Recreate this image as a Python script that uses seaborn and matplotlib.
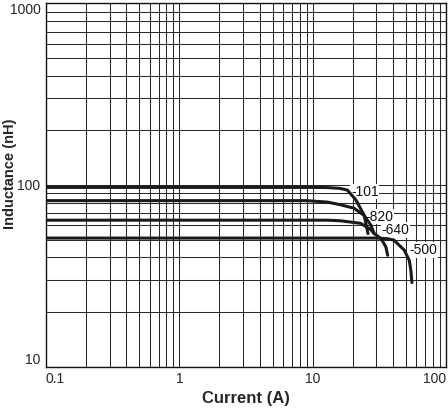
import numpy as np
import pandas as pd
import matplotlib
matplotlib.use("Agg")
import matplotlib.pyplot as plt
import seaborn as sns
from matplotlib.ticker import LogLocator, NullFormatter, FixedLocator

# ---- data ----
parts = ["-101", "-820", "-640", "-500"]
cur_101 = [0.1, 10, 12.9, 16.0, 18.2, 21.1, 24.3, 26.0]
ind_101 = [97, 97, 96.8, 95.8, 93.8, 82.7, 68.3, 54.0]
cur_820 = [0.1, 9, 12.9, 16.2, 20.4, 24.3, 27.3, 28.9]
ind_820 = [82, 82, 80.5, 77.8, 74.5, 68.0, 60.2, 54.0]
cur_640 = [0.1, 13, 16.2, 22.9, 27.3, 28.9, 32.5, 35.4, 36.5]
ind_640 = [64, 64, 63.5, 61.5, 56.8, 54.0, 50.8, 45.6, 41.0]
cur_500 = [0.1, 30, 36.5, 40.8, 48.6, 53.0, 54.5, 55.5]
ind_500 = [51, 51, 50.6, 49.6, 43.8, 38.5, 33.9, 29.0]

label_x = [19.4, 25.0, 32.8, 53.5]
label_y = [91.8, 66.8, 56.4, 43.8]

xticks = [0.1, 1, 10, 100]
xticklabels = ["0.1", "1", "10", "100"]
yticks = [10, 100, 1000]
yticklabels = ["10", "100", "1000"]

curves = {"-101": (cur_101, ind_101), "-820": (cur_820, ind_820),
          "-640": (cur_640, ind_640), "-500": (cur_500, ind_500)}
frames = []
for p in parts:
    c, l = curves[p]
    frames.append(pd.DataFrame({"Current": c, "Inductance": l, "part": p}))
df = pd.concat(frames, ignore_index=True)

sns.set_style("white")
plt.rcParams["font.family"] = ["Liberation Sans", "DejaVu Sans"]

fig = plt.figure(figsize=(4.48, 4.09), dpi=100)
ax = fig.add_axes([46 / 448, (409 - 366.5) / 409, 400 / 448, 363 / 409])
ax.set_xscale("log")
ax.set_yscale("log")
ax.set_xlim(0.1, 100)
ax.set_ylim(10, 1000)

# grid (major + minor)
ax.xaxis.set_major_locator(FixedLocator(xticks))
ax.yaxis.set_major_locator(FixedLocator(yticks))
ax.xaxis.set_minor_locator(LogLocator(base=10, subs=np.arange(2, 10)))
ax.yaxis.set_minor_locator(LogLocator(base=10, subs=np.arange(2, 10)))
ax.xaxis.set_minor_formatter(NullFormatter())
ax.yaxis.set_minor_formatter(NullFormatter())
ax.grid(True, which="both", color="#2a2a2a", linewidth=0.75)
ax.set_axisbelow(True)

sns.lineplot(data=df, x="Current", y="Inductance", hue="part", units="part",
             estimator=None, sort=False, palette=["#1a1a1a"] * 4,
             linewidth=2.2, legend=False, ax=ax, zorder=3)

for p, lx, ly in zip(parts, label_x, label_y):
    ax.text(lx, ly, p, fontsize=10, ha="left", va="center", color="#111",
            bbox=dict(facecolor="white", edgecolor="none", pad=0.5), zorder=1.5)

ax.set_xticks(xticks)
ax.set_xticklabels(xticklabels, fontsize=10)
ax.set_yticks(yticks)
ax.set_yticklabels(yticklabels, fontsize=10)
xl = ax.get_xticklabels()
xl[0].set_ha("left")
xl[-1].set_ha("right")
yl = ax.get_yticklabels()
yl[0].set_va("bottom")
yl[-1].set_va("top")
ax.tick_params(axis="both", which="both", length=0, pad=4)

ax.set_xlabel("Current (A)", fontsize=12, fontweight="bold")
ax.set_ylabel("Inductance (nH)", fontsize=10.5, fontweight="bold")
ax.xaxis.set_label_coords(0.5, -0.068)
ax.yaxis.set_label_coords(-0.072, 0.53)

for s in ax.spines.values():
    s.set_color("#111")
    s.set_linewidth(1.0)
    s.set_visible(True)

fig.savefig("out.png", dpi=100)
